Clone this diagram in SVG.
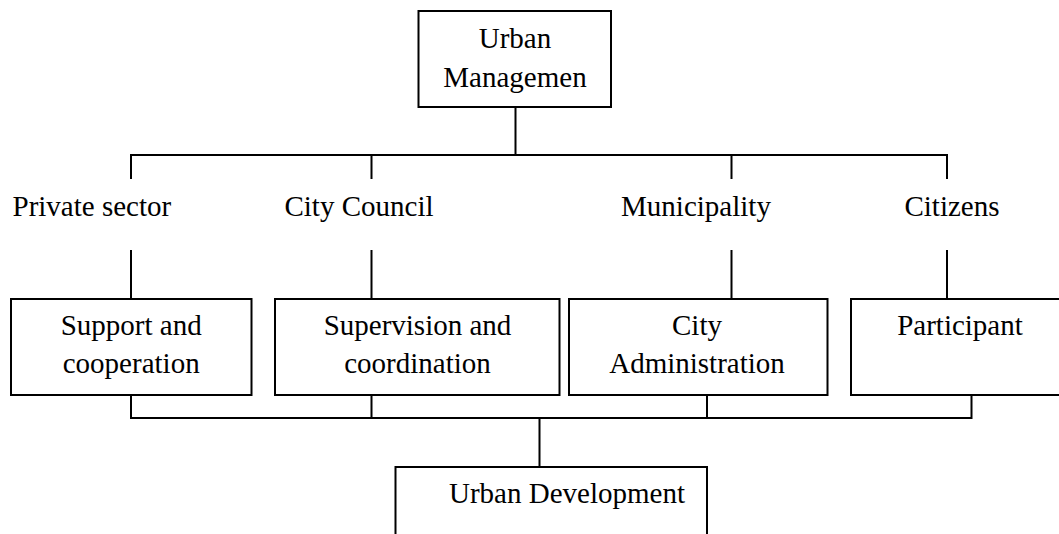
<svg xmlns="http://www.w3.org/2000/svg" width="1059" height="534" viewBox="0 0 1059 534">
<style>
.box{fill:#fff;stroke:#000;stroke-width:2}
.ln{fill:none;stroke:#000;stroke-width:2}
text{font-family:"Liberation Serif","Times New Roman",serif;font-size:29px;fill:#000}
.c{text-anchor:middle}
</style>
<rect width="1059" height="534" fill="#fff"/>
<g id="connectors">
<path class="ln" d="M515.5,107 V155 M131,179 V155 H947 V179 M371.5,155 V179 M731.5,155 V179"/>
<path class="ln" d="M131,250 V299 M371.5,250 V299 M731.5,250 V299 M947,250 V299"/>
<path class="ln" d="M131,395 V418 H971.5 V395 M371.5,395 V418 M707,395 V418 M539.5,418 V467"/>
</g>
<g id="urban-management">
<rect class="box" x="418.5" y="11" width="192.5" height="96"/>
<text class="c" x="515" y="48">Urban</text>
<text class="c" x="515" y="87">Managemen</text>
</g>
<g id="private-sector"><text x="12.5" y="216">Private sector</text></g>
<g id="city-council"><text class="c" x="359" y="216">City Council</text></g>
<g id="municipality"><text class="c" x="696" y="216">Municipality</text></g>
<g id="citizens"><text class="c" x="952" y="216">Citizens</text></g>
<g id="support">
<rect class="box" x="11" y="299" width="240.5" height="96"/>
<text class="c" x="131.2" y="335">Support and</text>
<text class="c" x="131.2" y="373">cooperation</text>
</g>
<g id="supervision">
<rect class="box" x="275" y="299" width="284.5" height="96"/>
<text class="c" x="417.5" y="335">Supervision and</text>
<text class="c" x="417.5" y="373">coordination</text>
</g>
<g id="city-administration">
<rect class="box" x="569" y="299" width="258.5" height="96"/>
<text class="c" x="697" y="335">City</text>
<text class="c" x="697" y="373">Administration</text>
</g>
<g id="participant">
<rect class="box" x="851" y="299" width="220" height="96"/>
<text class="c" x="960" y="335">Participant</text>
</g>
<g id="urban-development">
<rect class="box" x="395.5" y="467" width="311.5" height="80"/>
<text x="449" y="503">Urban Development</text>
</g>
</svg>
